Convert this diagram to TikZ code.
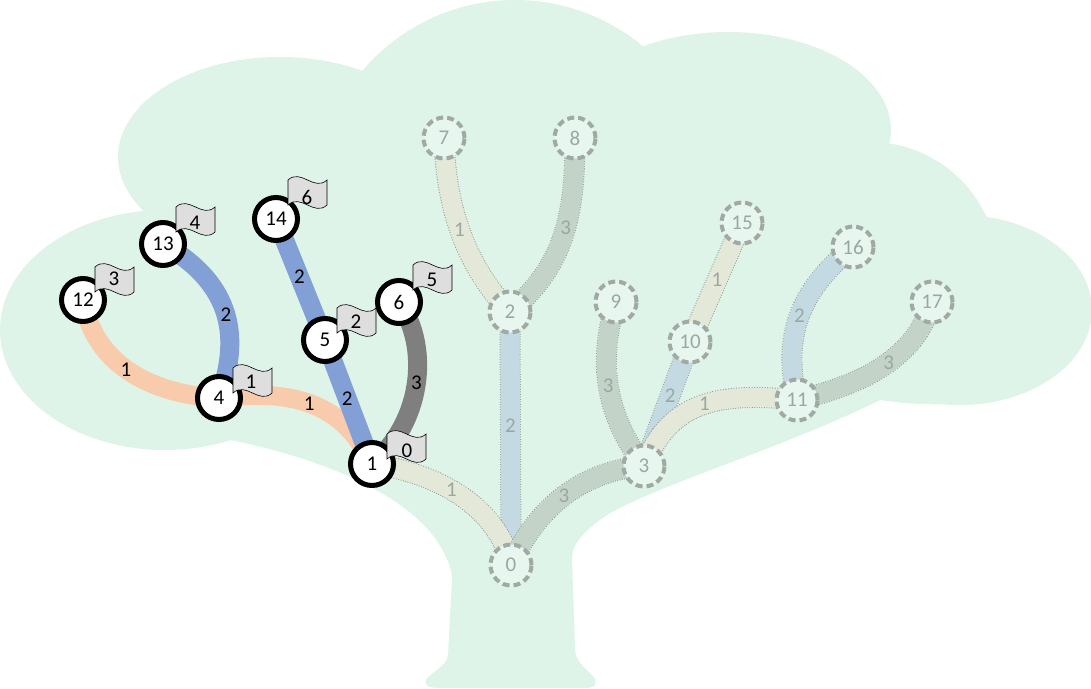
\documentclass[tikz,border=0pt]{standalone}
\usepackage{fontspec}
\setmainfont{Carlito}
\newcommand\nodefont{\fontsize{21}{24}\selectfont}
\definecolor{canopy}{RGB}{222,244,232}
\definecolor{fnodefill}{RGB}{231,247,239}
\definecolor{fnodeline}{RGB}{160,170,163}
\definecolor{ftext}{RGB}{155,168,160}
\definecolor{dotgray}{RGB}{150,158,152}
\definecolor{beige}{RGB}{228,232,216}
\definecolor{sage}{RGB}{195,211,200}
\definecolor{paleblue}{RGB}{195,218,226}
\definecolor{salmon}{RGB}{248,203,173}
\definecolor{actblue}{RGB}{130,160,214}
\definecolor{actgray}{RGB}{127,127,127}
\definecolor{flaggray}{RGB}{222,222,222}
\pgfdeclarelayer{bg}
\pgfdeclarelayer{bands}
\pgfsetlayers{bg,bands,main}
\begin{document}
\begin{tikzpicture}[x=1pt,y=-1pt,
  actnode/.style={circle, draw=black, line width=5pt, fill=white, minimum size=43pt, inner sep=0pt, font=\nodefont},
  fadnode/.style={circle, draw=fnodeline, line width=4pt, dash pattern=on 7pt off 4pt, fill=fnodefill, minimum size=41pt, inner sep=0pt, text=ftext, font=\nodefont},
  fadband/.style={preaction={draw=dotgray, line width=21pt, dash pattern=on 1pt off 1.5pt}, draw=#1, line width=19pt},
  actband/.style={draw=#1, line width=19pt},
  elab/.style={font=\nodefont, inner sep=0pt, text=black},
  felab/.style={font=\nodefont, inner sep=0pt, text=ftext},
  flagstyle/.style={draw=black, line width=0.6pt, fill=flaggray},
  pics/flagshape/.style={code={
    \path[flagstyle] (0,0) -- (0,-25) .. controls (13,-37) and (26,-13) .. (39,-25)
      -- (39,0) .. controls (26,12) and (13,-12) .. (0,0) -- cycle;
  }},
]
\useasboundingbox (0,0) rectangle (1091,688);

% ---------- tree ----------
\begin{pgfonlayer}{bg}
\fill[canopy] (165,330) ellipse [x radius=165pt, y radius=120pt];
\fill[canopy] (280,157) ellipse [x radius=162pt, y radius=100pt];
\fill[canopy] (515,200) circle [radius=200pt];
\fill[canopy] (728,130) ellipse [x radius=163pt, y radius=98pt];
\fill[canopy] (870,270) circle [radius=128pt];
\fill[canopy] (960,310) ellipse [x radius=132pt, y radius=95pt];
\fill[canopy] (165,330) -- (230,440) .. controls (330,460) and (420,500) .. (445,555)
  .. controls (450,565) and (452,572) .. (452,580) -- (448,655)
  .. controls (446,668) and (430,672) .. (426,680) .. controls (423,686) and (430,688) .. (440,688)
  -- (585,688) .. controls (597,688) and (598,682) .. (593,676)
  .. controls (585,668) and (576,662) .. (575,650) -- (572,557)
  .. controls (573,545) and (580,535) .. (600,520)
  .. controls (640,490) and (780,450) .. (880,400)
  .. controls (900,403) and (920,405) .. (950,404)
  -- (960,310) -- (870,200) -- (515,150) -- (280,200) -- cycle;
\end{pgfonlayer}

% ---------- faded nodes ----------
\node[fadnode] (n0) at (511,565) {0};
\node[fadnode] (n2) at (510,312) {2};
\node[fadnode] (n3) at (644,466) {3};
\node[fadnode] (n7) at (444,138) {7};
\node[fadnode] (n8) at (575,138) {8};
\node[fadnode] (n9) at (616,302) {9};
\node[fadnode] (n10) at (690,342) {10};
\node[fadnode] (n11) at (797,400) {11};
\node[fadnode] (n15) at (742,223) {15};
\node[fadnode] (n16) at (853,247) {16};
\node[fadnode] (n17) at (932,302) {17};

% ---------- active nodes ----------
\node[actnode] (n1) at (372,464) {1};
\node[actnode] (n4) at (219,398) {4};
\node[actnode] (n5) at (325,340) {5};
\node[actnode] (n6) at (399,302) {6};
\node[actnode] (n12) at (83,300) {12};
\node[actnode] (n13) at (163,244) {13};
\node[actnode] (n14) at (276,219) {14};

% ---------- bands ----------
\begin{pgfonlayer}{bands}
\draw[fadband=paleblue] (n0.center) -- (n2.center) node[felab, pos=0.55] (l02) {2};
\draw[fadband=beige] (n0.center) .. controls (500,515) and (450,475) .. (n1.center) node[felab, pos=0.6] (l01) {1};
\draw[fadband=sage] (n0.center) .. controls (540,500) and (590,470) .. (n3.center) node[felab, pos=0.47] (l03) {3};
\draw[fadband=beige] (n7.center) .. controls (446,215) and (470,270) .. (n2.center) node[felab, pos=0.45] (l27) {1};
\draw[fadband=sage] (n8.center) .. controls (575,215) and (565,265) .. (n2.center) node[felab, pos=0.45] (l28) {3};
\draw[fadband=sage] (n9.center) .. controls (595,370) and (610,420) .. (n3.center) node[felab, pos=0.46] (l39) {3};
\draw[fadband=paleblue] (n3.center) -- (n10.center) node[felab, pos=0.57] (l310) {2};
\draw[fadband=beige] (n3.center) .. controls (670,400) and (720,392) .. (n11.center) node[felab, pos=0.52] (l311) {1};
\draw[fadband=beige] (n10.center) -- (n15.center) node[felab, pos=0.52] (l1015) {1};
\draw[fadband=paleblue] (n11.center) .. controls (782,335) and (800,290) .. (n16.center) node[felab, pos=0.5] (l1116) {2};
\draw[fadband=sage] (n11.center) .. controls (860,385) and (915,360) .. (n17.center) node[felab, pos=0.55] (l1117) {3};

\draw[actband=salmon] (n4.center) .. controls (160,395) and (95,370) .. (n12.center) node[elab, pos=0.55] (l412) {1};
\draw[actband=salmon] (n1.center) .. controls (345,405) and (295,388) .. (n4.center) node[elab, pos=0.53] (l14) {1};
\draw[actband=actblue] (n4.center) .. controls (240,340) and (235,285) .. (n13.center) node[elab, pos=0.5] (l413) {2};
\draw[actband=actblue] (n1.center) -- (n5.center) node[elab, pos=0.53] (l15) {2};
\draw[actband=actblue] (n5.center) -- (n14.center) node[elab, pos=0.52] (l514) {2};
\draw[actband=actgray] (n1.center) .. controls (420,425) and (432,350) .. (n6.center) node[elab, pos=0.52] (l16) {3};
\end{pgfonlayer}

% ---------- flags ----------
\pic at (95,292) {flagshape};
\node[elab] (f12) at (114,279) {3};
\pic at (176,232) {flagshape};
\node[elab] (f13) at (195,223) {4};
\pic at (288,205) {flagshape};
\node[elab] (f14) at (307,197) {6};
\pic at (233,393) {flagshape};
\node[elab] (f4) at (251,382) {1};
\pic at (337,333) {flagshape};
\node[elab] (f5) at (356,322) {2};
\pic at (413,290) {flagshape};
\node[elab] (f6) at (432,280) {5};
\pic at (387,459) {flagshape};
\node[elab] (f1) at (407,451) {0};
\end{tikzpicture}
\end{document}
